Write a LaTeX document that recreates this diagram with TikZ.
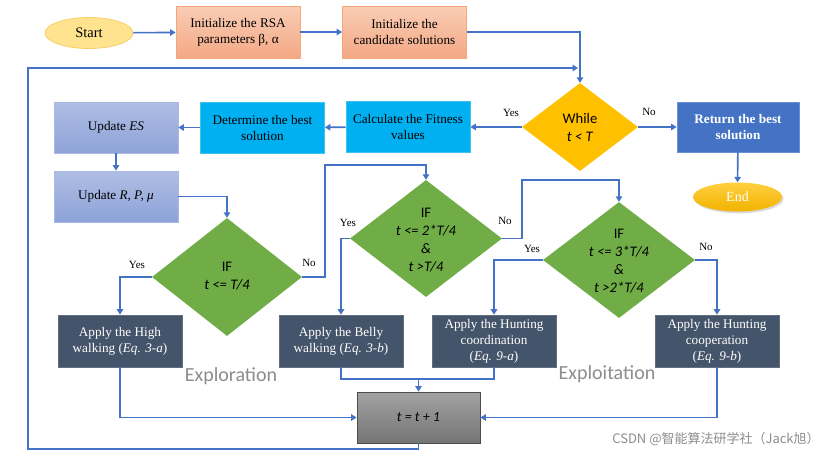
\documentclass[tikz,border=0pt]{standalone}
\usepackage{fontspec}
\setmainfont{Liberation Serif}
\newfontfamily\calib{Carlito}
\newfontfamily\cjk{Noto Sans CJK SC}
\usetikzlibrary{shapes.geometric,arrows.meta,shadows}
\definecolor{lineblue}{HTML}{4472C4}
\definecolor{salmonT}{HTML}{F9CDB5}
\definecolor{salmonB}{HTML}{F4A885}
\definecolor{salmonD}{HTML}{F5A77A}
\definecolor{lavT}{HTML}{B0BEE4}
\definecolor{lavB}{HTML}{8DA2D8}
\definecolor{lavD}{HTML}{A9B9E2}
\definecolor{cyanbox}{HTML}{00B0F0}
\definecolor{cyanD}{HTML}{3CC3F2}
\definecolor{gold}{HTML}{FFC000}
\definecolor{goldT}{HTML}{FFCF40}
\definecolor{goldB}{HTML}{F2B300}
\definecolor{greenD}{HTML}{70AD47}
\definecolor{slate}{HTML}{44546A}
\definecolor{retblue}{HTML}{4472C4}
\definecolor{retD}{HTML}{6A8FD6}
\definecolor{startY}{HTML}{FFE38E}
\definecolor{startD}{HTML}{F7CF6A}
\definecolor{grayT}{HTML}{A3A3A3}
\definecolor{grayB}{HTML}{747474}
\definecolor{labgray}{HTML}{8C8C8C}
\begin{document}
\begin{tikzpicture}[x=1pt,y=-1pt,
  conn/.style={draw=lineblue,line width=1.6pt,-{Triangle[length=5.5pt,width=6.5pt]}},
  plain/.style={draw=lineblue,line width=1.6pt},
  boxtxt/.style={align=center,font=\fontsize{13.2}{16}\selectfont,inner sep=0pt},
  initbox/.style={boxtxt,rectangle,top color=salmonT,bottom color=salmonB,draw=salmonD,line width=0.8pt,minimum width=124pt,minimum height=52pt},
  lavbox/.style={boxtxt,rectangle,top color=lavT,bottom color=lavB,draw=lavD,line width=0.8pt,minimum width=124pt,minimum height=51pt},
  cyanbox/.style={boxtxt,rectangle,fill=cyanbox,draw=cyanD,line width=0.8pt,minimum width=124pt,minimum height=51pt},
  darkbox/.style={boxtxt,rectangle,fill=slate,draw=slate!85!white,line width=0.6pt,text=white,minimum width=124pt,minimum height=52pt,drop shadow={opacity=0.25,shadow xshift=1.2pt,shadow yshift=-1.2pt}},
  dia/.style={diamond,inner sep=0pt,minimum width=152pt,minimum height=117pt,fill=greenD,draw=none},
  ditxt/.style={align=center,font=\calib\fontsize{14.6}{18}\selectfont,inner sep=0pt},
  yn/.style={font=\fontsize{11}{12}\selectfont,inner sep=0pt},
  phase/.style={font=\calib\fontsize{20}{22}\selectfont,text=labgray,inner sep=0pt}
]
\useasboundingbox (0,0) rectangle (836,456);

% top row
\node[ellipse,fill=startY,draw=startD,line width=0.8pt,minimum width=88pt,minimum height=31pt,inner sep=0pt,font=\fontsize{14.5}{16}\selectfont] (start) at (89,33) {Start};
\node[initbox] (rsa) at (238,32) {Initialize the RSA\\parameters β, α};
\node[initbox] (cand) at (404.5,32) {Initialize the\\candidate solutions};

% while
\node[diamond,inner sep=0pt,minimum width=116pt,minimum height=88pt,fill=gold] (while) at (580,127) {};
\node[ditxt] (whiletxt) at (580,127.5) {While\\\textit{t} \textit{<} \textit{T}};
\node[rectangle,fill=retblue,draw=retD,line width=0.8pt,minimum width=122pt,minimum height=50pt,align=center,inner sep=0pt,text=white,font=\bfseries\fontsize{13.2}{16}\selectfont] (ret) at (738,127) {Return the best\\solution};
\node[ellipse,top color=goldT,bottom color=goldB,draw=none,minimum width=89pt,minimum height=29pt,inner sep=0pt,text=white,font=\fontsize{14}{15}\selectfont,drop shadow={opacity=0.3,shadow xshift=1.5pt,shadow yshift=-1.8pt}] (end) at (737.5,197) {End};

% second row
\node[cyanbox] (fit) at (408,127) {Calculate the Fitness\\values};
\node[cyanbox] (det) at (262.5,127.5) {Determine the best\\solution};
\node[lavbox] (ues) at (116,127.5) {Update \textit{ES}};
\node[lavbox] (urp) at (116,196.5) {Update \textit{R, P, μ}};

% decision diamonds
\node[dia,minimum width=150pt,minimum height=118pt] (d1) at (227,277) {};
\node[ditxt] (d1t) at (227,276) {IF\\\textit{t <= T/4}};
\node[dia] (d2) at (426,238.5) {};
\node[ditxt] (d2t) at (426,240) {IF\\\textit{t <= 2*T/4}\\\textit{\&}\\\textit{t >T/4}};
\node[dia,minimum height=116pt] (d3) at (619,260) {};
\node[ditxt] (d3t) at (619,261) {IF\\\textit{t <= 3*T/4}\\\textit{\&}\\\textit{t >2*T/4}};

% action boxes
\node[darkbox] (high) at (120,341) {Apply the High\\walking (\textit{Eq. 3-a})};
\node[darkbox] (belly) at (341,341) {Apply the Belly\\walking (\textit{Eq. 3-b})};
\node[darkbox] (hcoord) at (494,341) {Apply the Hunting\\coordination\\(\textit{Eq. 9-a})};
\node[darkbox] (hcoop) at (717,341) {Apply the Hunting\\cooperation\\(\textit{Eq. 9-b})};

% increment
\node[rectangle,top color=grayT,bottom color=grayB,draw=black!70,line width=0.8pt,minimum width=123pt,minimum height=51pt,inner sep=0pt,font=\calib\itshape\fontsize{14}{15}\selectfont] (inc) at (418.5,417.5) {t = t + 1};

% phase labels
\node[phase] (explor) at (231,376) {Exploration};
\node[phase] (exploi) at (607,374) {Exploitation};

% watermark
\node[inner sep=0pt,text=black!45,font=\cjk\fontsize{13}{15}\selectfont] (wm) at (716,439) {CSDN @智能算法研学社（Jack旭）};

% coordinates
\coordinate (lb) at (28,449);
\coordinate (lt) at (28,68);
\coordinate (la) at (578,68);
\coordinate (n1) at (325,165);
\coordinate (n2) at (522,180);
\coordinate (j) at (418.5,379);

% connectors
\draw[conn] (start) -- (rsa);
\draw[conn] (rsa) -- (cand);
\draw[conn] (cand.east) -| (while.north);
\draw[conn] (inc.south) |- (lb) -- (lt) -- (la);
\draw[conn] (while.west) -- (fit.east);
\draw[conn] (while.east) -- (ret.west);
\draw[conn] (ret) -- (end);
\draw[conn] (fit) -- (det);
\draw[conn] (det) -- (ues);
\draw[conn] (ues) -- (urp);
\draw[conn] (urp.east) -| (d1.north);
\draw[conn] (d1.west) -| (high.north);
\draw[conn] (d1.east) -| (n1) -| (d2.north);
\draw[conn] (d2.west) -| (belly.north);
\draw[conn] (d2.east) -| (n2) -| (d3.north);
\draw[conn] (d3.west) -| (hcoord.north);
\draw[conn] (d3.east) -| (hcoop.north);
\draw[conn] (high.south) |- (inc.west);
\draw[plain] (belly.south) |- (j);
\draw[plain] (hcoord.south) |- (j);
\draw[conn] (j) -- (inc.north);
\draw[conn] (hcoop.south) |- (inc.east);

% yes / no labels
\node[yn] (y0) at (511,113) {Yes};
\node[yn] (n0) at (649,112) {No};
\node[yn] (y1) at (137,265) {Yes};
\node[yn] (no1) at (309,263) {No};
\node[yn] (y2) at (348,223) {Yes};
\node[yn] (no2) at (505,221) {No};
\node[yn] (y3) at (532,249) {Yes};
\node[yn] (no3) at (706,247) {No};
\end{tikzpicture}
\end{document}
